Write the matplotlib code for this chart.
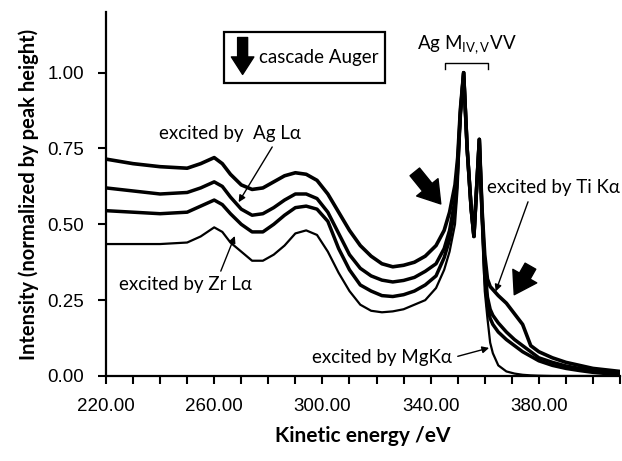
import numpy as np
import matplotlib
matplotlib.use("Agg")
import matplotlib.pyplot as plt
from matplotlib.patches import Rectangle
from matplotlib.ticker import FuncFormatter, MultipleLocator

# kinetic energy grid (eV) shared by the four spectra
energy = [220, 230, 240, 250, 255, 260, 263, 266, 270, 274, 278, 282, 286, 290,
          294, 298, 302, 306, 310, 314, 318, 322, 326, 330, 334, 338, 342, 345,
          347, 349, 350, 351, 352.2, 353.5, 355, 356, 357, 358, 359, 360, 361,
          362, 363, 365, 368, 371, 374, 377, 380, 385, 390, 395, 400, 405, 410]

ti_ka = [0.715, 0.70, 0.69, 0.685, 0.70, 0.72, 0.70, 0.665, 0.63, 0.615, 0.62,
         0.64, 0.66, 0.67, 0.665, 0.645, 0.60, 0.54, 0.48, 0.43, 0.395, 0.37,
         0.36, 0.365, 0.375, 0.395, 0.43, 0.48, 0.54, 0.63, 0.72, 0.88, 1.0,
         0.75, 0.55, 0.46, 0.62, 0.78, 0.55, 0.40, 0.32, 0.295, 0.285, 0.265,
         0.24, 0.205, 0.17, 0.10, 0.08, 0.06, 0.045, 0.035, 0.025, 0.02, 0.015]

ag_la = [0.62, 0.61, 0.60, 0.605, 0.62, 0.64, 0.625, 0.59, 0.55, 0.53, 0.535,
         0.555, 0.58, 0.60, 0.60, 0.585, 0.54, 0.47, 0.40, 0.355, 0.33, 0.316,
         0.31, 0.315, 0.325, 0.345, 0.37, 0.42, 0.48, 0.58, 0.70, 0.87, 1.0,
         0.75, 0.55, 0.46, 0.62, 0.78, 0.54, 0.36, 0.26, 0.22, 0.20, 0.175,
         0.145, 0.12, 0.10, 0.08, 0.06, 0.045, 0.033, 0.025, 0.018, 0.013, 0.01]

zr_la = [0.545, 0.54, 0.535, 0.54, 0.56, 0.58, 0.565, 0.535, 0.50, 0.475, 0.475,
         0.50, 0.53, 0.555, 0.56, 0.55, 0.51, 0.42, 0.35, 0.30, 0.28, 0.265,
         0.262, 0.268, 0.28, 0.30, 0.33, 0.39, 0.45, 0.55, 0.68, 0.86, 1.0,
         0.75, 0.55, 0.46, 0.62, 0.78, 0.53, 0.33, 0.23, 0.19, 0.17, 0.145,
         0.12, 0.10, 0.08, 0.065, 0.05, 0.035, 0.025, 0.018, 0.012, 0.008, 0.006]

mg_ka = [0.435, 0.435, 0.435, 0.44, 0.46, 0.49, 0.475, 0.44, 0.41, 0.38, 0.38,
         0.40, 0.43, 0.47, 0.48, 0.465, 0.41, 0.34, 0.28, 0.235, 0.215, 0.21,
         0.213, 0.22, 0.235, 0.25, 0.29, 0.35, 0.41, 0.50, 0.62, 0.84, 1.0,
         0.75, 0.55, 0.46, 0.62, 0.78, 0.50, 0.28, 0.19, 0.11, 0.075, 0.035,
         0.015, 0.008, 0.004, 0.002, 0.001, 0.0, 0.0, 0.0, 0.0, 0.0, 0.0]

x_tick_labels = [220, 260, 300, 340, 380]
y_ticks = [0.0, 0.25, 0.5, 0.75, 1.0]

plt.rcParams["mathtext.fontset"] = "custom"
plt.rcParams["mathtext.rm"] = "Lato"
txt_font = ["Lato", "DejaVu Sans"]
tick_font = "Liberation Sans"

fig = plt.figure(figsize=(6.22, 4.61), dpi=100)
ax = fig.add_axes([0.1704, 0.1844, 0.8264, 0.7896])

for vals, lw in [(ti_ka, 2.6), (ag_la, 2.5), (zr_la, 2.5), (mg_ka, 1.6)]:
    ax.plot(energy, vals, color="black", lw=lw, solid_joinstyle="round")

ax.set_xlim(220, 410)
ax.set_ylim(0, 1.2)
ax.spines["top"].set_visible(False)
ax.spines["right"].set_visible(False)
for s in ("left", "bottom"):
    ax.spines[s].set_linewidth(1.6)

ax.xaxis.set_major_locator(MultipleLocator(10))
ax.xaxis.set_major_formatter(FuncFormatter(
    lambda v, p: "%.2f" % v if round(v) in x_tick_labels else ""))
ax.set_yticks(y_ticks)
ax.yaxis.set_major_formatter(FuncFormatter(lambda v, p: "%.2f" % v))
ax.tick_params(axis="both", direction="out", length=6, width=1.5,
               labelsize=13.5, pad=10)
for lab in ax.get_xticklabels() + ax.get_yticklabels():
    lab.set_fontfamily(tick_font)

ax.set_xlabel("Kinetic energy /eV", fontsize=15, fontweight="bold",
              family=txt_font, labelpad=8)
ax.set_ylabel("Intensity (normalized by peak height)", fontsize=14.5,
              fontweight="bold", family=txt_font, labelpad=6)

# legend-like box for the cascade Auger arrows
ax.add_patch(Rectangle((263.7, 0.967), 59.3, 0.168, fill=False, lw=1.6,
                       ec="black"))
big = dict(arrowstyle="simple,head_length=0.7,head_width=0.9,tail_width=0.4",
           fc="black", ec="black", mutation_scale=22)
box_arrow = dict(big, mutation_scale=18)
ax.annotate("", xy=(270.5, 0.985), xytext=(270.5, 1.125), arrowprops=box_arrow)
ax.text(276.5, 1.05, "cascade Auger", fontsize=13.5, family=txt_font,
        va="center", ha="left")
ax.annotate("", xy=(344.4, 0.56), xytext=(333.5, 0.68), arrowprops=big)
ax.annotate("", xy=(370.4, 0.26), xytext=(377.4, 0.37), arrowprops=big)

# Ag MVV bracket
ax.plot([345.2, 345.2, 361.1, 361.1], [1.013, 1.033, 1.033, 1.013],
        color="black", lw=1)
ax.text(353.5, 1.055, r"Ag M$_{\mathrm{IV,V}}$VV", fontsize=13.5,
        family=txt_font, ha="center", va="bottom")

thin = dict(arrowstyle="-|>", color="black", lw=1, mutation_scale=10)
ax.annotate("excited by  Ag L\u03b1", xy=(268.5, 0.565), xytext=(239.6, 0.80),
            fontsize=13.5, family=txt_font, va="center", ha="left",
            arrowprops=dict(thin, relpos=(0.82, 0.0)))
ax.annotate("excited by Zr L\u03b1", xy=(268, 0.47), xytext=(224.8, 0.30),
            fontsize=13.5, family=txt_font, va="center", ha="left",
            arrowprops=dict(thin, relpos=(0.75, 1.0)))
ax.annotate("excited by Ti K\u03b1", xy=(363.7, 0.27), xytext=(361, 0.62),
            fontsize=13.5, family=txt_font, va="center", ha="left",
            arrowprops=dict(thin, relpos=(0.32, 0.0)))
ax.annotate("excited by MgK\u03b1", xy=(362.6, 0.095), xytext=(296.3, 0.06),
            fontsize=13.5, family=txt_font, va="center", ha="left",
            arrowprops=dict(thin, relpos=(1.0, 0.5)))

fig.savefig("out.png", dpi=100)
